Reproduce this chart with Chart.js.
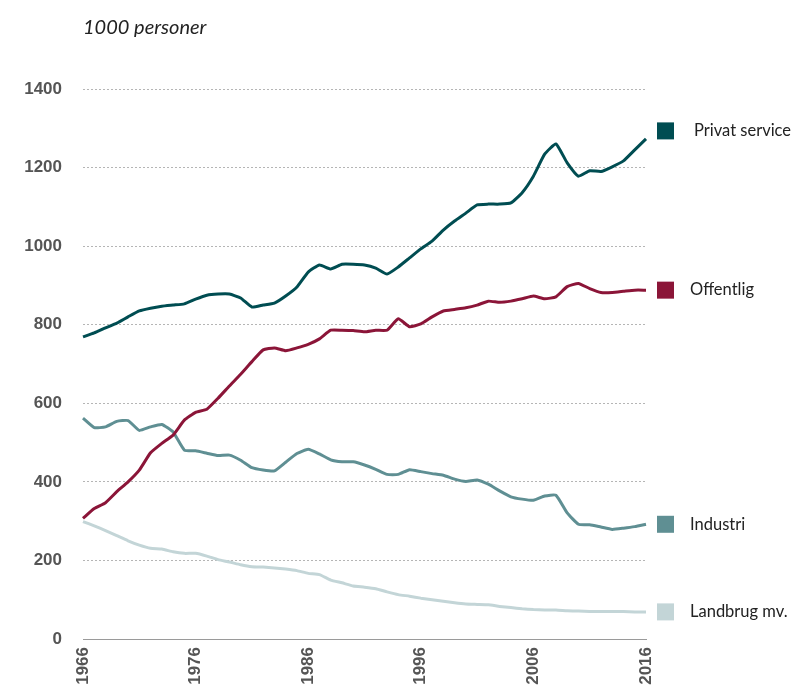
<!DOCTYPE html>
<html>
<head>
<meta charset="utf-8">
<script src="https://cdn.jsdelivr.net/npm/chart.js@4/dist/chart.umd.min.js"></script>
<style>
  html, body { margin: 0; padding: 0; background: #fff; }
  #wrap { width: 793px; height: 687px; position: relative; }
</style>
</head>
<body>
<div id="wrap"><canvas id="lineChart"></canvas></div>
<script>
var years = ['1966','1967','1968','1969','1970','1971','1972','1973','1974','1975',
             '1976','1977','1978','1979','1980','1981','1982','1983','1984','1985',
             '1986','1987','1988','1989','1990','1991','1992','1993','1994','1995',
             '1996','1997','1998','1999','2000','2001','2002','2003','2004','2005',
             '2006','2007','2008','2009','2010','2011','2012','2013','2014','2015','2016'];

var privatService = [769, 779, 792, 804, 820, 835, 842, 847, 850, 853,
                     865, 875, 878, 878, 868, 845, 850, 855, 873, 896,
                     934, 952, 942, 954, 954, 952, 944, 929, 947, 970,
                     993, 1013, 1041, 1064, 1084, 1105, 1107, 1107, 1110, 1136,
                     1178, 1234, 1260, 1212, 1178, 1192, 1190, 1202, 1217, 1245, 1273];

var offentlig = [307, 332, 347, 375, 400, 430, 474, 498, 519, 557,
                 577, 585, 613, 644, 674, 706, 736, 741, 734, 741,
                 750, 764, 786, 786, 785, 782, 786, 786, 815, 795,
                 802, 820, 835, 839, 843, 850, 860, 857, 860, 866,
                 873, 866, 871, 897, 905, 892, 882, 882, 885, 888, 888];

var industri = [562, 538, 540, 554, 556, 531, 540, 546, 527, 481,
                479, 473, 467, 468, 455, 436, 430, 428, 450, 472,
                483, 471, 456, 451, 451, 443, 432, 419, 419, 431,
                426, 421, 417, 407, 401, 405, 394, 377, 362, 356,
                353, 364, 366, 321, 292, 291, 285, 279, 282, 286, 292];

var landbrug = [299, 288, 276, 263, 250, 239, 231, 229, 222, 218,
                218, 211, 202, 196, 189, 184, 183, 181, 178, 174,
                167, 164, 150, 143, 135, 132, 128, 120, 113, 109,
                104, 100, 96, 92, 89, 88, 87, 83, 80, 77,
                75, 74, 74, 72, 71, 70, 70, 70, 70, 69, 69];

var seriesNames = ['Privat service', 'Offentlig', 'Industri', 'Landbrug mv.'];
var yTicks = [0, 200, 400, 600, 800, 1000, 1200, 1400];

var colors = ['#004d52', '#8b1538', '#5f8f93', '#c3d5d7'];

// title + labels at the end of each line
var sideLabels = {
    id: 'sideLabels',
    afterDraw: function(chart) {
        var ctx = chart.ctx;
        var area = chart.chartArea;
        var y = chart.scales.y;
        ctx.save();
        ctx.fillStyle = '#222';
        ctx.font = 'italic 20px Lato';
        ctx.textBaseline = 'alphabetic';
        ctx.textAlign = 'left';
        ctx.fillText('1000 personer', 83, 34);

        var shift = [-8, 0, 0, 0];
        var textX = [694, 690, 690, 690];
        ctx.font = '16.5px Lato';
        ctx.textBaseline = 'middle';
        chart.data.datasets.forEach(function(ds, i) {
            var last = ds.data[ds.data.length - 1];
            var py = y.getPixelForValue(last) + shift[i];
            ctx.fillStyle = ds.borderColor;
            ctx.fillRect(area.right + 11, py - 8.5, 17, 17);
            ctx.fillStyle = '#222';
            ctx.fillText(ds.label, textX[i], py);
        });
        ctx.restore();
    }
};

var linectx = document.getElementById('lineChart').getContext('2d');

var lineChart = new Chart(linectx, {
    type: 'line',
    data: {
        labels: years,
        datasets: [privatService, offentlig, industri, landbrug].map(function(d, i) {
            return {
                label: seriesNames[i],
                data: d,
                borderColor: colors[i],
                backgroundColor: colors[i],
                borderWidth: 3,
                borderJoinStyle: 'round',
                pointRadius: 0,
                tension: 0.15,
                fill: false
            };
        })
    },
    plugins: [sideLabels],
    options: {
        responsive: true,
        maintainAspectRatio: false,
        animation: false,
        layout: {
            padding: { top: 89, right: 147, left: 0, bottom: 0 }
        },
        plugins: {
            legend: { display: false },
            tooltip: { enabled: false }
        },
        scales: {
            x: {
                grid: { display: false, drawTicks: false },
                border: { display: true, color: '#9a9a9a', width: 1 },
                afterFit: function(scale) { scale.height = 48; },
                ticks: {
                    autoSkip: false,
                    maxRotation: 90,
                    minRotation: 90,
                    padding: 8,
                    color: '#555',
                    font: { family: 'Liberation Sans', size: 17, weight: 'bold' },
                    callback: function(val, idx) {
                        var lab = this.getLabelForValue(val);
                        return (Number(lab) - 1966) % 10 === 0 ? lab : '';
                    }
                }
            },
            y: {
                min: 0,
                max: 1400,
                afterFit: function(scale) { scale.width = 83; },
                afterBuildTicks: function(scale) {
                    scale.ticks = yTicks.map(function(v) { return { value: v }; });
                },
                grid: {
                    drawTicks: false,
                    lineWidth: 1,
                    color: function(c) { return c.tick && c.tick.value === 0 ? 'rgba(0,0,0,0)' : '#b5b5b5'; }
                },
                border: { display: false, dash: [2, 2] },
                ticks: {
                    padding: 21,
                    color: '#555',
                    font: { family: 'Liberation Sans', size: 17, weight: 'bold' },
                    callback: function(v) { return String(v); }
                }
            }
        }
    }
});
</script>
</body>
</html>
